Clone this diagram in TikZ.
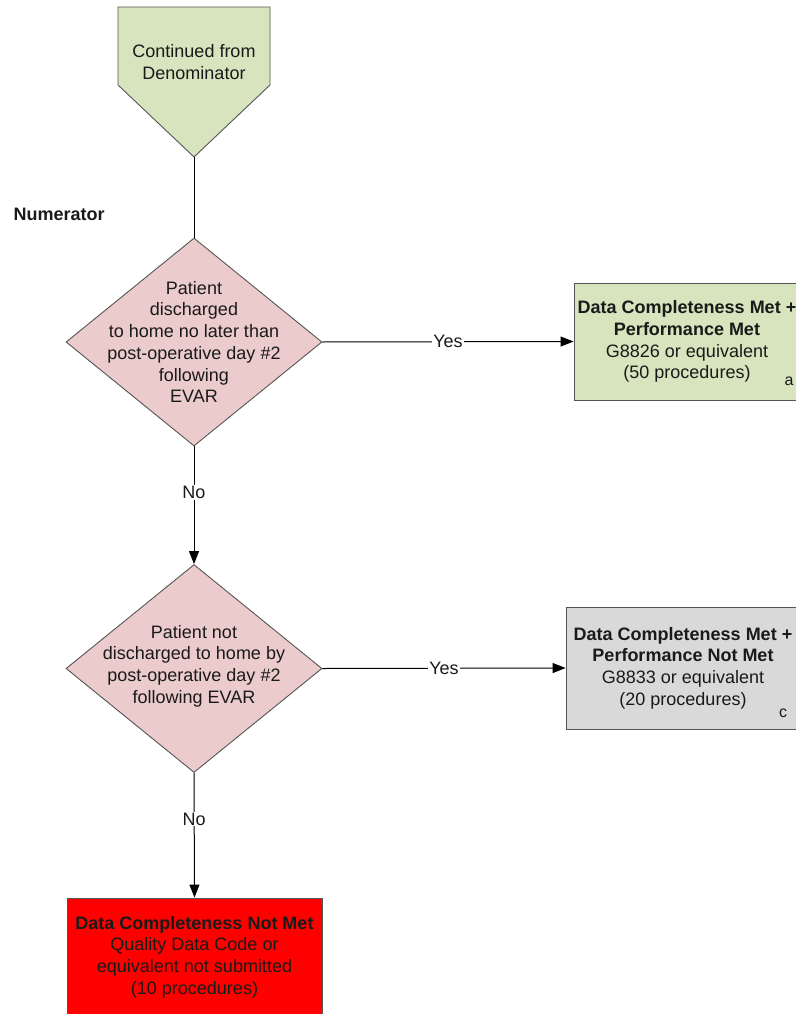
\documentclass[tikz,border=0pt]{standalone}
\usepackage{fontspec}
\setmainfont{Liberation Sans}
\usetikzlibrary{shapes.geometric,arrows.meta}
\definecolor{boxgreen}{HTML}{D7E4BD}
\definecolor{diapink}{HTML}{EBCBCB}
\definecolor{boxgray}{HTML}{D9D9D9}
\definecolor{boxred}{HTML}{FF0000}
\definecolor{edgegray}{HTML}{555555}
\definecolor{txt}{HTML}{1A1A1A}
\tikzset{
  every node/.style={font=\fontsize{18}{21.7}\selectfont, text=txt},
  decision/.style={diamond, draw=edgegray, fill=diapink, line width=0.9pt, inner sep=0pt, minimum width=256, minimum height=208},
  outbox/.style={rectangle, draw=edgegray, line width=0.9pt, align=center, inner sep=0pt},
  conn/.style={line width=1pt, draw=black},
  arr/.style={conn, -{Triangle[length=13pt,width=10pt]}},
  lbl/.style={fill=white, inner sep=1pt},
  corner/.style={font=\fontsize{16}{18}\selectfont}
}
\begin{document}
\begin{tikzpicture}[x=1pt,y=-1pt]
\useasboundingbox (0,0) rectangle (795,1014);
% pentagon
\draw[draw=edgegray, fill=boxgreen, line width=0.9pt] (118,7) -- (270,7) -- (270,85) -- (194,157) -- (118,85) -- cycle;
\coordinate (ptip) at (194,157);
\node[align=center] (ptext) at (194,62) {Continued from\\Denominator};
\node[font=\bfseries\fontsize{18}{21.7}\selectfont, anchor=west] (num) at (10,214) {Numerator};
% decisions
\node[decision] (d1) at (194,342) {};
\node[align=center] (d1t) at (194,342) {Patient\\discharged\\to home no later than\\post-operative day \#2\\following\\EVAR};
\node[decision] (d2) at (194,668.5) {};
\node[align=center] (d2t) at (194,666) {Patient not\\discharged to home by\\post-operative day \#2\\following EVAR};
% outcome boxes
\node[outbox, fill=boxgreen, minimum width=226, minimum height=117] (ba) at (687,341.5) {\textbf{Data Completeness Met +}\\\textbf{Performance Met}\\G8826 or equivalent\\(50 procedures)};
\node[corner] (la) at (789,381) {a};
\node[outbox, fill=boxgray, minimum width=234, minimum height=122] (bc) at (683,668) {\textbf{Data Completeness Met +}\\\textbf{Performance Not Met}\\G8833 or equivalent\\(20 procedures)};
\node[corner] (lc) at (783,713) {c};
\node[outbox, fill=boxred, minimum width=255, minimum height=118] (br) at (194.5,957) {\textbf{Data Completeness Not Met}\\Quality Data Code or\\equivalent not submitted\\(10 procedures)};
% connectors
\draw[conn] (ptip) -- (d1.north);
\draw[arr] (d1.east) -- node[lbl] (y1) {Yes} (ba.west);
\draw[arr] (d1.south) -- node[lbl, pos=0.39] (n1) {No} (d2.north);
\draw[arr] (d2.east) -- node[lbl] (y2) {Yes} (bc.west);
\draw[arr] (d2.south) -- node[lbl, pos=0.37] (n2) {No} (br.north);
\end{tikzpicture}
\end{document}
